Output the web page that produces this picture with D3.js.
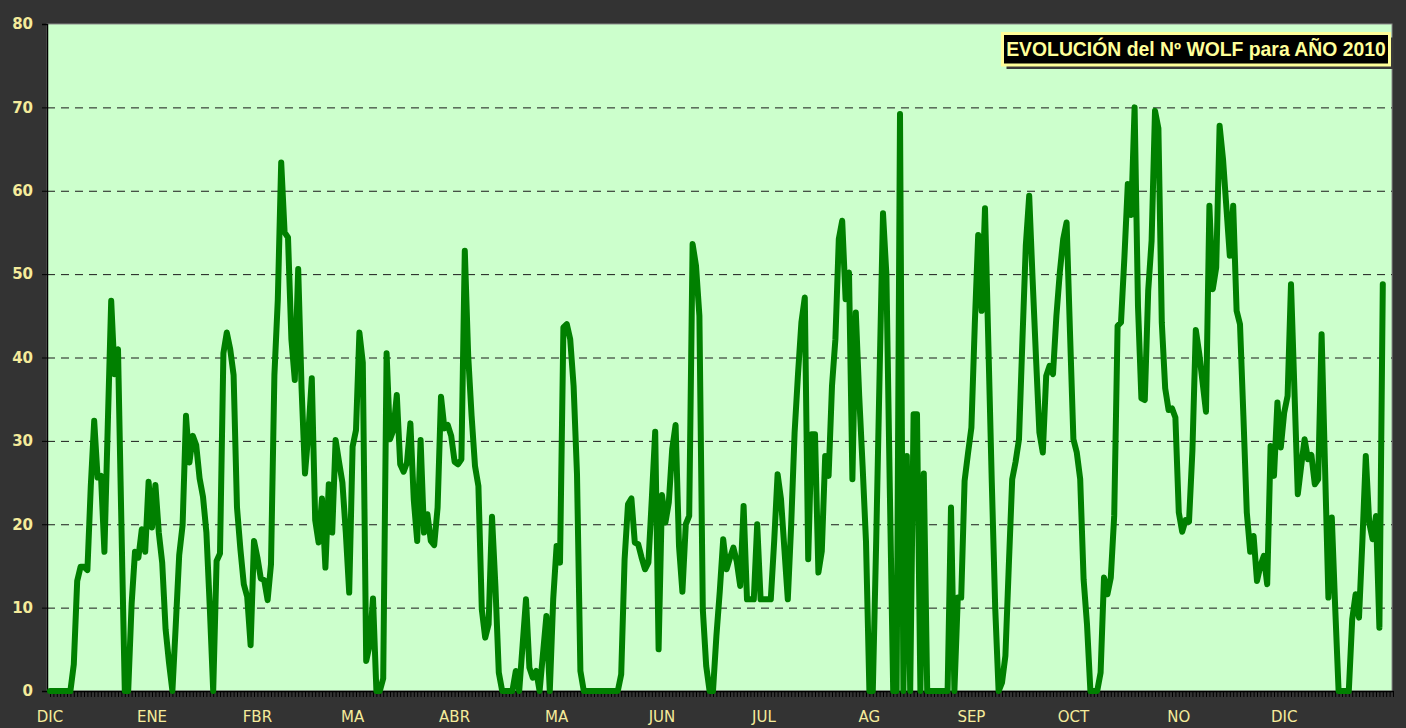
<!DOCTYPE html>
<html><head><meta charset="utf-8">
<script src="https://cdn.jsdelivr.net/npm/d3@7"></script>
<style>html,body{margin:0;padding:0;background:#333333;}svg{display:block;}</style>
</head><body>
<script>
// Daily Wolf number, 1 Dec 2009 onward (one value per day)
const wolf = [
0,0,0,0,0,0,0,3.2,13.2,14.9,14.9,14.5,24.6,32.4,25.6,25.8,16.7,32,46.8,38,
41,20,0,0,10.4,16.7,16,19.4,16.7,25.1,19.6,24.7,19,15.4,7.4,3.4,0,8,16.3,19.9,
33,27.4,30.6,29.5,25.5,23.3,19,10,0,15.6,16.5,40.5,43,41,37.9,22,17,12.8,11.3,5.5,
18,16,13.5,13.3,10.9,15.2,37.9,46.9,63.4,55,54.4,42.2,37.3,50.6,36.2,26.1,31,37.5,20.5,17.8,
23.1,14.8,24.8,19,30.1,27.5,25,19,11.8,29.3,31.3,43,39.4,3.6,5.5,11.1,0,0,1.5,40.5,
30.2,31.3,35.5,27.2,26.3,27.4,32.1,22.9,18,30.1,19,21.2,18,17.5,22,35.3,31.5,31.9,30.6,27.5,
27.2,27.8,52.8,40.2,33,27,24.6,9.8,6.4,8,20.9,12.6,2.2,0,0,0,0,2.4,0,5.5,
11,2.8,1.6,2.4,0,4.5,9,0,11,17.4,15.4,43.6,44,42.2,36.6,26,2.4,0,0,0,
0,0,0,0,0,0,0,0,2,15.8,22.4,23.1,17.8,17.6,16,14.6,15.4,23,31.1,5,
23.5,20.2,22.6,29,31.9,17.4,11.9,20,21,53.6,51,45,9.8,3,0,0,6.6,12,18.2,14.6,
16,17.2,15.5,12.6,22.2,11,11,11,20,11,11,11,11,18,26,23,17,11,20,31,
38,44.2,47.2,15.8,30.8,30.8,14.2,16.8,28.2,25.8,36.6,42.2,54.2,56.4,47,50.2,25.4,45.4,35.4,27,
17.9,0,0,18,38,57.3,49.9,24.3,0,0,69.2,0,28.2,0,33.2,33.2,0,26.1,0,0,
0,0,0,0,0,22,0,11.2,11.2,25.2,28.5,31.6,44,54.7,45.6,57.9,41.4,25,10,0,
1,4.2,15,25.4,27.5,30.2,42,53.4,59.4,49.4,40,31,28.6,37.8,39,38,45,50.2,54.2,56.2,
43,30.2,28.6,25.4,13.4,8,0,0,0,2.2,13.6,11.6,13.6,21,43.8,44.2,52,60.8,57.1,70,
46.1,35.1,34.9,48,54,69.6,67.5,44.2,36.3,33.7,33.9,32.8,21.4,19.1,20.5,20.3,28.8,43.3,40.5,37,
33.5,58.2,48.2,50.8,67.8,63.8,58,52.2,58.2,45.6,44,33,21.4,16.7,18.6,13.2,15,16.2,12.8,29.4,
25.8,34.6,29.2,33.4,35.4,48.8,36.2,23.6,27,30.2,27.8,28.3,24.8,25.4,42.8,27,11.2,20.8,10,0,
0,0,0,8.6,11.6,8.8,18,28.2,20.2,18.2,21,7.6,48.8
];
const totalDays = 396;
const monthLabels = ["DIC","ENE","FBR","MA","ABR","MA","JUN","JUL","AG","SEP","OCT","NO","DIC"];
const monthLabelDays = [0,30,61,89,119,149,180,210,241,271,301,332,363];
const yTicks = [0,10,20,30,40,50,60,70,80];
const titleText = "EVOLUCIÓN del Nº WOLF para AÑO 2010";

const W = 1406, H = 728;
const plot = {left: 47, right: 1392, top: 24, bottom: 691};

const svg = d3.select("body").append("svg").attr("width", W).attr("height", H);
svg.append("rect").attr("width", W).attr("height", H).attr("fill", "#333333");

const x = d3.scaleLinear().domain([0, totalDays - 1]).range([50, 1393]);
const y = d3.scaleLinear().domain([0, 80]).range([plot.bottom, plot.top]);

// plot area
svg.append("rect")
  .attr("x", plot.left).attr("y", plot.top)
  .attr("width", plot.right - plot.left).attr("height", plot.bottom - plot.top)
  .attr("fill", "#ccffcc").attr("stroke", "#8a8a8a").attr("stroke-width", 1);

// gridlines
svg.append("g").selectAll("line").data(yTicks.filter(v => v > 0 && v < 80)).join("line")
  .attr("x1", plot.left).attr("x2", plot.right)
  .attr("y1", d => y(d) + 0.5).attr("y2", d => y(d) + 0.5)
  .attr("stroke", "#1a1a1a").attr("stroke-width", 1).attr("stroke-dasharray", "8,6");

// y axis
const yAxis = svg.append("g").attr("transform", `translate(${plot.left},0)`)
  .call(d3.axisLeft(y).tickValues(yTicks).tickSize(5).tickPadding(9).tickFormat(d3.format("d")));
yAxis.select(".domain").attr("stroke", "#000").attr("stroke-width", 1.5);
yAxis.selectAll(".tick line").attr("stroke", "#000");
yAxis.selectAll("text")
  .attr("fill", "#f5eb9b").attr("font-family", "DejaVu Sans, Verdana, sans-serif")
  .attr("font-weight", "bold").attr("font-size", 15);

// x axis: one tick per day
const xAxis = svg.append("g").attr("transform", `translate(0,${plot.bottom})`)
  .call(d3.axisBottom(x).tickValues(d3.range(totalDays)).tickSize(6).tickSizeOuter(0).tickFormat(""));
xAxis.select(".domain").attr("stroke", "#000").attr("stroke-width", 1.5);
xAxis.selectAll(".tick line").attr("stroke", "#000").attr("stroke-width", 1);

// month labels
svg.append("g").selectAll("text").data(monthLabels).join("text")
  .attr("x", (d, i) => x(monthLabelDays[i]))
  .attr("y", 722)
  .attr("text-anchor", "middle")
  .attr("fill", "#f5eb9b")
  .attr("font-family", "DejaVu Sans, Verdana, sans-serif")
  .attr("font-size", 15)
  .text(d => d);

// series line
const line = d3.line().x((d, i) => x(i)).y(d => y(d));
svg.append("path").datum(wolf)
  .attr("d", line)
  .attr("fill", "none").attr("stroke", "#008000")
  .attr("stroke-width", 6)
  .attr("stroke-linejoin", "round").attr("stroke-linecap", "round");

// title box
const tb = {x: 1002.5, y: 33.5, w: 387, h: 31.5};
svg.append("rect").attr("x", tb.x + 4).attr("y", tb.y + 4).attr("width", tb.w).attr("height", tb.h)
  .attr("fill", "#3a3a3a");
svg.append("rect").attr("x", tb.x).attr("y", tb.y).attr("width", tb.w).attr("height", tb.h)
  .attr("fill", "#000").attr("stroke", "#ffff99").attr("stroke-width", 3);
const t = svg.append("text")
  .attr("x", tb.x + tb.w / 2).attr("y", tb.y + tb.h / 2 + 7)
  .attr("text-anchor", "middle")
  .attr("fill", "#ffff99")
  .attr("font-family", "Liberation Sans, Arial, sans-serif")
  .attr("font-weight", "bold").attr("font-size", 19)
  .text(titleText);
const len = t.node().getComputedTextLength();
const target = 380;
t.attr("font-size", 19 * target / len);
</script>
</body></html>
